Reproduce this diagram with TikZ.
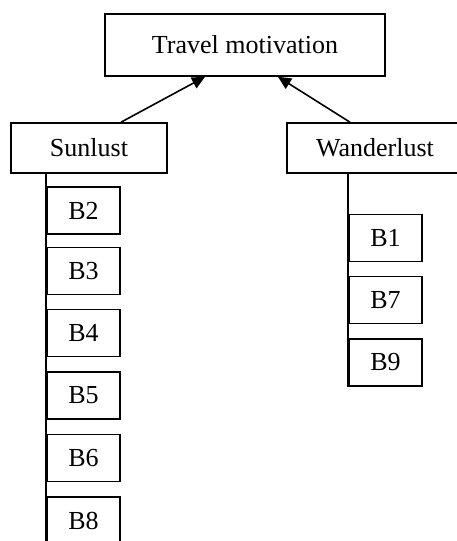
\documentclass[tikz,border=0pt]{standalone}
\usepackage{fontspec}
\setmainfont{Liberation Serif}
\usetikzlibrary{arrows.meta}
\tikzset{
  box/.style={draw, line width=1.6pt, inner sep=0pt, anchor=center, font=\fontsize{26}{31}\selectfont},
  bbox/.style={box, minimum width=73pt, minimum height=47pt},
  arr/.style={line width=1.6pt, -{Triangle[length=13pt,width=12pt]}},
  stem/.style={line width=1.6pt}
}
\begin{document}
\begin{tikzpicture}[x=1pt,y=-1pt]
\useasboundingbox (0,0) rectangle (457,541);
\clip (0,0) rectangle (457,541);
\node[box, minimum width=280pt, minimum height=62pt] (top) at (245,45) {Travel motivation};
\node[box, minimum width=156pt, minimum height=50pt] (sun) at (89,148) {Sunlust};
\node[box, minimum width=176pt, minimum height=50pt] (wan) at (375,148) {Wanderlust};
\node[bbox] (b2) at (83.5,210.5) {B2};
\node[bbox] (b3) at (83.5,271) {B3};
\node[bbox] (b4) at (83.5,333) {B4};
\node[bbox] (b5) at (83.5,395.5) {B5};
\node[bbox] (b6) at (83.5,458) {B6};
\node[bbox] (b8) at (83.5,520.5) {B8};
\node[bbox] (b1) at (385.5,238) {B1};
\node[bbox] (b7) at (385.5,300) {B7};
\node[bbox] (b9) at (385.5,362.5) {B9};
\draw[arr] ([xshift=32pt]sun.north) -- ([xshift=-40pt]top.south);
\draw[arr] ([xshift=-25pt]wan.north) -- ([xshift=33pt]top.south);
\draw[stem] (b2.west |- sun.south) -- (b8.south west);
\draw[stem] (b1.west |- wan.south) -- (b9.south west);
\end{tikzpicture}
\end{document}
